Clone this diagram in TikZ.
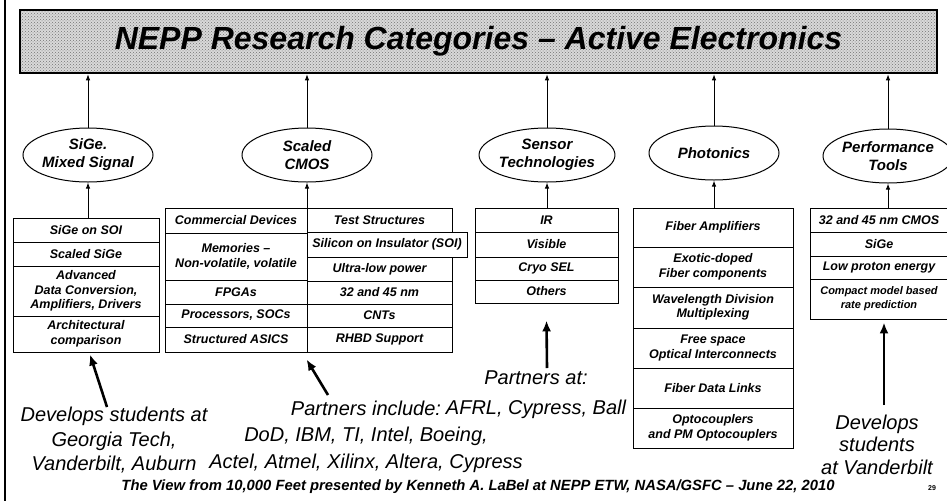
\documentclass[tikz,border=0pt]{standalone}
\usepackage{fontspec}
\setmainfont{Liberation Sans}
\usetikzlibrary{shapes.geometric,arrows.meta,patterns}

\begin{document}
\begin{tikzpicture}[x=1pt,y=-1pt,
	cell/.style={draw,line width=0.9pt,inner sep=0pt,align=center,font=\bfseries\itshape\fontsize{12.5}{14.5}\selectfont},
	topic/.style={ellipse,draw,line width=1pt,minimum width=130pt,minimum height=54pt,inner sep=0pt,align=center,font=\bfseries\itshape\fontsize{15}{18}\selectfont},
	thinarrow/.style={-{Latex[length=6pt,width=4.5pt]},line width=1pt},
	bigarrow/.style={-{Latex[length=11pt,width=9pt]},line width=2.6pt},
	remark/.style={align=center,inner sep=0pt}]

\useasboundingbox (0,0) rectangle (947,501);

% Left border
\draw[line width=1.6pt] (5,0) -- (5,501);

%Title
\node[draw,line width=2.5pt,preaction={fill=gray!30},pattern=crosshatch dots,pattern color=black!55,
	minimum width=917pt,minimum height=63pt,font=\bfseries\itshape\fontsize{32}{36}\selectfont] (title) at (478.5,41.5) {NEPP Research Categories -- Active Electronics};

%%%%%%%%%%%% SiGe %%%%%%%%%%%%%%%%%%%
\node[topic] (sige) at (88,155) {SiGe.\\Mixed Signal};
\node[cell,minimum width=146pt,minimum height=24pt] (sige1) at (86,230) {SiGe on SOI};
\node[cell,minimum width=146pt,minimum height=24pt] (sige2) at (86,254) {Scaled SiGe};
\node[cell,minimum width=146pt,minimum height=50pt] (sige3) at (86,291) {Advanced\\Data Conversion,\\Amplifiers, Drivers};
\node[cell,minimum width=146pt,minimum height=36pt] (sige4) at (86,334) {Architectural\\comparison};

%%%%%%%%%%%% Scaled CMOS %%%%%%%%%%%%%%%%%%%
\node[topic] (cmos) at (307,155) {Scaled\\CMOS};
% left column
\node[cell,minimum width=142pt,minimum height=25pt] (cmosL1) at (236,220.5) {Commercial Devices};
\node[cell,minimum width=142pt,minimum height=47pt] (cmosL2) at (236,256.5) {Memories --\\Non-volatile, volatile};
\node[cell,minimum width=142pt,minimum height=24pt] (cmosL3) at (236,292) {FPGAs};
\node[cell,minimum width=142pt,minimum height=23pt] (cmosL4) at (236,315.5) {Processors, SOCs};
\node[cell,minimum width=142pt,minimum height=25pt] (cmosL5) at (236,339.5) {Structured ASICS};
% right column
\node[cell,minimum width=145pt,minimum height=24pt] (cmosR1) at (379.5,220) {Test Structures};
\node[cell,minimum width=160pt,minimum height=25pt] (cmosR2) at (387,244.5) {Silicon on Insulator (SOI)};
\node[cell,minimum width=145pt,minimum height=24pt] (cmosR3) at (379.5,269) {Ultra-low power};
\node[cell,minimum width=145pt,minimum height=23pt] (cmosR4) at (379.5,292.5) {32 and 45 nm};
\node[cell,minimum width=145pt,minimum height=23pt] (cmosR5) at (379.5,315.5) {CNTs};
\node[cell,minimum width=145pt,minimum height=25pt] (cmosR6) at (379.5,339.5) {RHBD Support};

%%%%%%%%%%%% Sensor %%%%%%%%%%%%%%%%%%%
\node[topic] (sens) at (547,155) {Sensor\\Technologies};
\node[cell,minimum width=143pt,minimum height=24pt] (sens1) at (546.5,220) {IR};
\node[cell,minimum width=143pt,minimum height=25pt] (sens2) at (546.5,244.5) {Visible};
\node[cell,minimum width=143pt,minimum height=23pt] (sens3) at (546.5,268.5) {Cryo SEL};
\node[cell,minimum width=143pt,minimum height=23pt] (sens4) at (546.5,291.5) {Others};

%%%%%%%%%%%% Photonics %%%%%%%%%%%%%%%%%%%
\node[topic] (phot) at (714,153) {Photonics};
\node[cell,minimum width=160pt,minimum height=39pt] (phot1) at (713,227.5) {Fiber Amplifiers};
\node[cell,minimum width=160pt,minimum height=40pt] (phot2) at (713,267) {Exotic-doped\\Fiber components};
\node[cell,minimum width=160pt,minimum height=41pt] (phot3) at (713,307.5) {Wavelength Division\\Multiplexing};
\node[cell,minimum width=160pt,minimum height=40pt] (phot4) at (713,348) {Free space\\Optical Interconnects};
\node[cell,minimum width=160pt,minimum height=40pt] (phot5) at (713,388) {Fiber Data Links};
\node[cell,minimum width=160pt,minimum height=40pt] (phot6) at (713,428) {Optocouplers\\and PM Optocouplers};

%%%%%%%%%%%% Performance Tools %%%%%%%%%%%%%%%%%%%
\node[topic] (perf) at (888,156) {Performance\\Tools};
\node[cell,minimum width=138pt,minimum height=24pt] (perf1) at (879,220) {32 and 45 nm CMOS};
\node[cell,minimum width=138pt,minimum height=24pt] (perf2) at (879,244) {SiGe};
\node[cell,minimum width=138pt,minimum height=23pt] (perf3) at (879,267.5) {Low proton energy};
\node[cell,minimum width=138pt,minimum height=40pt,font=\bfseries\itshape\fontsize{11}{14}\selectfont] (perf4) at (879,299) {Compact model based\\rate prediction};

% Ellipses up to the title
\foreach \t in {sige,cmos,sens,phot,perf}
	\draw[thinarrow] (\t.north) -- (\t.north |- title.south);

% Boxes up to the ellipses
\draw[thinarrow] (sige.south |- sige1.north) -- (sige.south);
\draw[thinarrow] (cmos.south |- cmosL1.north) -- (cmos.south);
\draw[thinarrow] (sens.south |- sens1.north) -- (sens.south);
\draw[thinarrow] (phot.south |- phot1.north) -- (phot.south);
\draw[thinarrow] (perf.south |- perf1.north) -- (perf.south);

%Notes at the bottom
\node[remark,font=\itshape\fontsize{20}{24.5}\selectfont] (devL) at (114,440.5) {Develops students at\\Georgia Tech,\\Vanderbilt, Auburn};
\node[remark,font=\itshape\fontsize{20}{26.5}\selectfont] (partIncl) at (366,436.5) {Partners include:\\DoD, IBM, TI, Intel, Boeing,\\Actel, Atmel, Xilinx, Altera, Cypress};
\node[remark,font=\itshape\fontsize{20}{30}\selectfont] (partAt) at (536,395) {Partners at:\\AFRL, Cypress, Ball};
\node[remark,font=\itshape\fontsize{20}{22.5}\selectfont] (devR) at (877,444.5) {Develops\\students\\at Vanderbilt};

\coordinate (devLtip) at (107,407);
\coordinate (partIncltip) at (328,395);
\coordinate (partAttip) at (547,368);
\coordinate (devRtip) at (884,405);

\draw[bigarrow] (devLtip) -- ([xshift=4pt,yshift=-2pt]sige4.south);
\draw[bigarrow] (partIncltip) -- ([yshift=-7pt]cmosR6.south west);
\draw[bigarrow] (partAttip) -- ([yshift=-17pt]sens4.south);
\draw[bigarrow] (devRtip) -- ([xshift=5pt,yshift=-3pt]perf4.south);

%Footer
\node[remark,font=\bfseries\itshape\fontsize{14.8}{17}\selectfont] (foot) at (478,487) {The View from 10,000 Feet presented by Kenneth A. LaBel at NEPP ETW, NASA/GSFC -- June 22, 2010};
\node[remark,font=\bfseries\fontsize{7}{8}\selectfont] (pagenum) at (932,488) {29};

\end{tikzpicture}
\end{document}
